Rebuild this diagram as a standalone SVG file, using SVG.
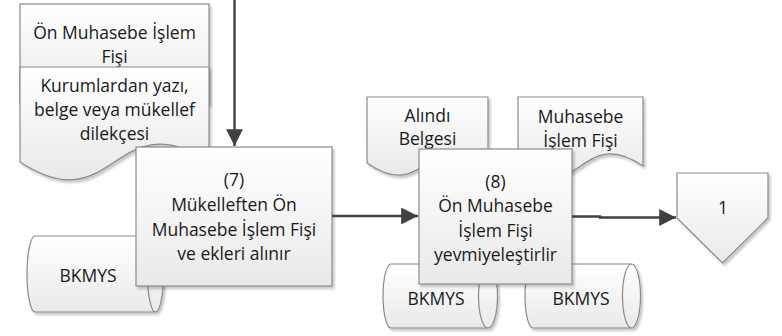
<svg xmlns="http://www.w3.org/2000/svg" width="782" height="336" viewBox="0 0 782 336">
  <defs>
    <linearGradient id="g" x1="0" y1="0" x2="0" y2="1">
      <stop offset="0" stop-color="#ffffff"/>
      <stop offset="1" stop-color="#e9e9e9"/>
    </linearGradient>
    <filter id="sh" x="-10%" y="-10%" width="130%" height="130%">
      <feDropShadow dx="2" dy="2.5" stdDeviation="1.2" flood-color="#000" flood-opacity="0.22"/>
    </filter>
    <marker id="ah" viewBox="0 0 10 10" refX="10" refY="5" markerWidth="7" markerHeight="7" markerUnits="strokeWidth" orient="auto">
      <path d="M0,0 L10,5 L0,10 Z" fill="#404040"/>
    </marker>
    <style>
      .s { fill: url(#g); stroke: #8a8a8a; stroke-width: 1.2; filter: url(#sh); }
      .l { fill: none; stroke: #8a8a8a; stroke-width: 1.2; }
      .t { font-family: "Open Sans", "DejaVu Sans", sans-serif; font-size: 17.5px; fill: #1a1a1a; text-anchor: middle; }
      .c { fill: none; stroke: #404040; stroke-width: 2.4; }
    </style>
  </defs>

  <g id="doc-on-muhasebe">
    <rect class="s" x="20" y="4" width="189" height="100"/>
    <text class="t" x="114.5" y="39">Ön Muhasebe İşlem</text>
    <text class="t" x="114.5" y="63">Fişi</text>
  </g>

  <g id="doc-kurumlardan">
    <path class="s" d="M20,67 H209 V162 C114.5,100 114.5,224 20,162 Z"/>
    <text class="t" x="114.5" y="92">Kurumlardan yazı,</text>
    <text class="t" x="114.5" y="116">belge veya mükellef</text>
    <text class="t" x="114.5" y="140">dilekçesi</text>
  </g>

  <g id="db-bkmys-1">
    <path class="s" d="M35,236 H155.5 A8,38 0 0 1 155.5,312 H35 A8,38 0 0 1 35,236 Z"/>
    <path class="l" d="M155.5,236 A8,38 0 0 0 155.5,312"/>
    <text class="t" x="88" y="282">BKMYS</text>
  </g>

  <g id="doc-alindi">
    <path class="s" d="M367,97 H488 V163 C427.5,121 427.5,205 367,163 Z"/>
    <text class="t" x="427.5" y="122">Alındı</text>
    <text class="t" x="427.5" y="145">Belgesi</text>
  </g>

  <g id="doc-muhasebe">
    <path class="s" d="M518,97 H643 V166 C580.5,124 580.5,208 518,166 Z"/>
    <text class="t" x="580.5" y="123">Muhasebe</text>
    <text class="t" x="580.5" y="147">İşlem Fişi</text>
  </g>

  <g id="db-bkmys-2">
    <path class="s" d="M391,264 H488 A9.5,32 0 0 1 488,328 H391 A8,32 0 0 1 391,264 Z"/>
    <path class="l" d="M488,264 A9.5,32 0 0 0 488,328"/>
    <text class="t" x="436" y="305">BKMYS</text>
  </g>

  <g id="db-bkmys-3">
    <path class="s" d="M533,264 H631.5 A9,32 0 0 1 631.5,328 H533 A8,32 0 0 1 533,264 Z"/>
    <path class="l" d="M631.5,264 A9,32 0 0 0 631.5,328"/>
    <text class="t" x="581" y="305">BKMYS</text>
  </g>

  <g id="process-7">
    <rect class="s" x="136" y="147" width="196" height="139"/>
    <text class="t" x="234" y="186">(7)</text>
    <text class="t" x="234" y="211">Mükelleften Ön</text>
    <text class="t" x="234" y="236">Muhasebe İşlem Fişi</text>
    <text class="t" x="234" y="260">ve ekleri alınır</text>
  </g>

  <g id="process-8">
    <rect class="s" x="419" y="149" width="153" height="135"/>
    <text class="t" x="495.5" y="188">(8)</text>
    <text class="t" x="495.5" y="212">Ön Muhasebe</text>
    <text class="t" x="495.5" y="237">İşlem Fişi</text>
    <text class="t" x="495.5" y="261">yevmiyeleştirlir</text>
  </g>

  <g id="offpage-1">
    <path class="s" d="M677,173 H768 V218 L722.5,263 L677,218 Z"/>
    <text class="t" x="723" y="214">1</text>
  </g>

  <g id="connectors">
    <path class="c" d="M234.5,0 V146" marker-end="url(#ah)"/>
    <path class="c" d="M332,216 H418" marker-end="url(#ah)"/>
    <path class="c" d="M572,216.5 H600 V217.5 H676" marker-end="url(#ah)"/>
  </g>
</svg>
